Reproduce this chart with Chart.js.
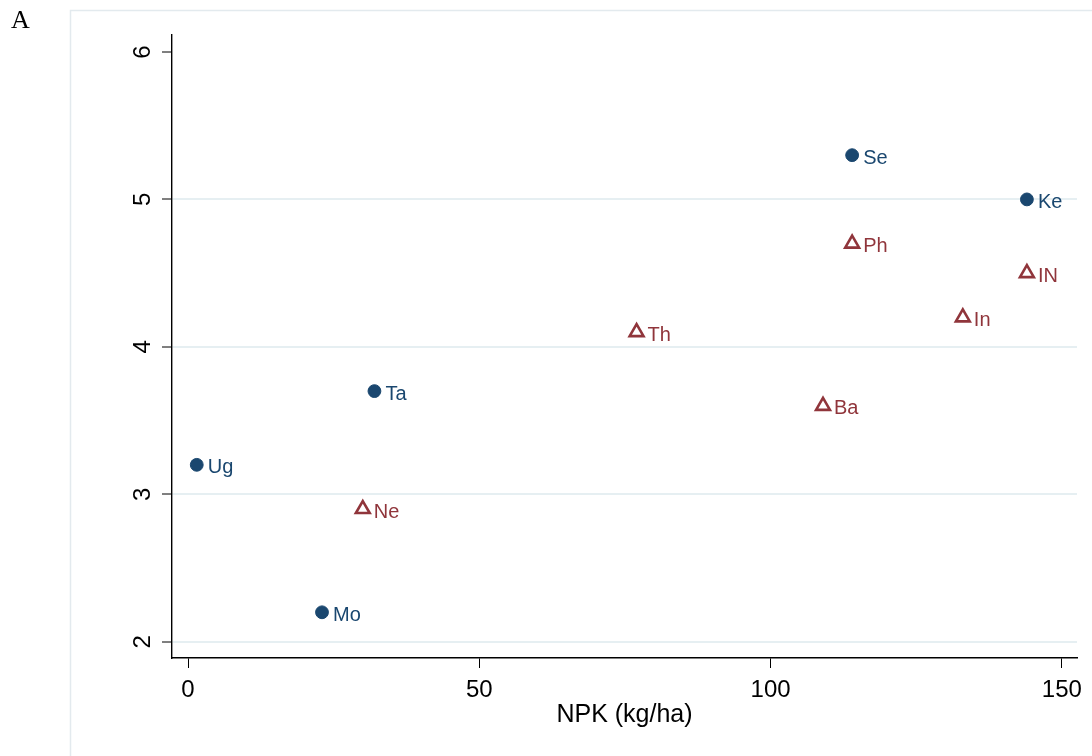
<!DOCTYPE html>
<html>
<head>
<meta charset="utf-8">
<script src="https://cdn.jsdelivr.net/npm/chart.js@4.4.1/dist/chart.umd.min.js"></script>
<style>
html,body{margin:0;padding:0;background:#fff;}
#wrap{position:relative;width:1092px;height:756px;}
canvas{display:block;}
</style>
</head>
<body>
<div id="wrap"><canvas id="c" width="1092" height="756"></canvas></div>
<script>
// Group 1 (blue circles)
const labelsCircle = ['Ug', 'Mo', 'Ta', 'Se', 'Ke'];
const npkCircle = [1.5, 23, 32, 114, 144];
const yieldCircle = [3.2, 2.2, 3.7, 5.3, 5.0];
// Group 2 (red triangles)
const labelsTriangle = ['Ne', 'Th', 'Ba', 'Ph', 'In', 'IN'];
const npkTriangle = [30, 77, 109, 114, 133, 144];
const yieldTriangle = [2.9, 4.1, 3.6, 4.7, 4.2, 4.5];
// Axes
const xTicks = [0, 50, 100, 150];
const yTicks = [2, 3, 4, 5, 6];
const xTitle = 'NPK (kg/ha)';
const panelLabel = 'A';

const BLUE = '#1a476f';
const RED = '#90353b';
const FONT = "'Liberation Sans', Arial, Helvetica, sans-serif";

const frameAndLabels = {
  id: 'frameAndLabels',
  beforeDraw(chart) {
    const ctx = chart.ctx;
    ctx.save();
    ctx.fillStyle = '#fff';
    ctx.fillRect(0, 0, chart.width, chart.height);
    ctx.strokeStyle = '#e3eaee';
    ctx.lineWidth = 1.5;
    ctx.beginPath();
    ctx.moveTo(70.5, 756);
    ctx.lineTo(70.5, 10.5);
    ctx.lineTo(1092, 10.5);
    ctx.stroke();
    ctx.fillStyle = '#000';
    ctx.font = "26px 'Liberation Serif', 'Times New Roman', serif";
    ctx.textBaseline = 'alphabetic';
    ctx.textAlign = 'left';
    ctx.fillText(panelLabel, 11, 28);
    ctx.restore();
  },
  afterDatasetsDraw(chart) {
    const ctx = chart.ctx;
    ctx.save();
    ctx.font = '20px ' + FONT;
    ctx.textBaseline = 'middle';
    ctx.textAlign = 'left';
    chart.data.datasets.forEach((ds, di) => {
      const meta = chart.getDatasetMeta(di);
      ctx.fillStyle = ds.borderColor;
      meta.data.forEach((pt, i) => {
        ctx.fillText(ds.pointLabels[i], pt.x + 11, pt.y + 3);
      });
    });
    ctx.restore();
  }
};

new Chart(document.getElementById('c'), {
  type: 'scatter',
  data: {
    datasets: [
      {
        data: npkCircle.map((x, i) => ({ x, y: yieldCircle[i] })),
        pointLabels: labelsCircle,
        pointStyle: 'circle',
        pointRadius: 6.4,
        borderWidth: 1,
        backgroundColor: BLUE,
        borderColor: BLUE
      },
      {
        data: npkTriangle.map((x, i) => ({ x, y: yieldTriangle[i] })),
        pointLabels: labelsTriangle,
        pointStyle: 'triangle',
        pointRadius: 8,
        borderWidth: 2.6,
        backgroundColor: 'rgba(255,255,255,0)',
        borderColor: RED
      }
    ]
  },
  options: {
    responsive: false,
    animation: false,
    events: [],
    layout: { padding: { left: 0, top: 35, right: 15, bottom: 0 } },
    plugins: { legend: { display: false }, tooltip: { enabled: false } },
    scales: {
      x: {
        type: 'linear',
        position: 'bottom',
        min: -2.75,
        max: 152.6,
        afterBuildTicks: s => { s.ticks = xTicks.map(v => ({ value: v })); },
        afterFit: s => { s.height = 98; },
        grid: { drawOnChartArea: false, drawTicks: true, tickLength: 10, tickColor: '#000', tickWidth: 1 },
        border: { display: true, color: '#000', width: 1.4 },
        ticks: { color: '#000', font: { size: 24, family: FONT }, padding: 8, maxRotation: 0, minRotation: 0 },
        title: { display: true, text: xTitle, color: '#000', font: { size: 25, family: FONT }, padding: { top: 0, bottom: 26 } }
      },
      y: {
        type: 'linear',
        position: 'left',
        min: 1.89,
        max: 6.115,
        afterBuildTicks: s => { s.ticks = yTicks.map(v => ({ value: v })); },
        afterFit: s => { s.width = 172; },
        grid: {
          color: ctx => (ctx.tick && ctx.tick.value === 6) ? 'rgba(0,0,0,0)' : '#e6eff2',
          lineWidth: 2,
          tickLength: 10,
          tickColor: '#000',
          tickWidth: 1
        },
        border: { display: true, color: '#000', width: 1.4 },
        ticks: { color: '#000', font: { size: 24, family: FONT }, padding: 12, minRotation: 90, maxRotation: 90, crossAlign: 'center' }
      }
    }
  },
  plugins: [frameAndLabels]
});
</script>
</body>
</html>
